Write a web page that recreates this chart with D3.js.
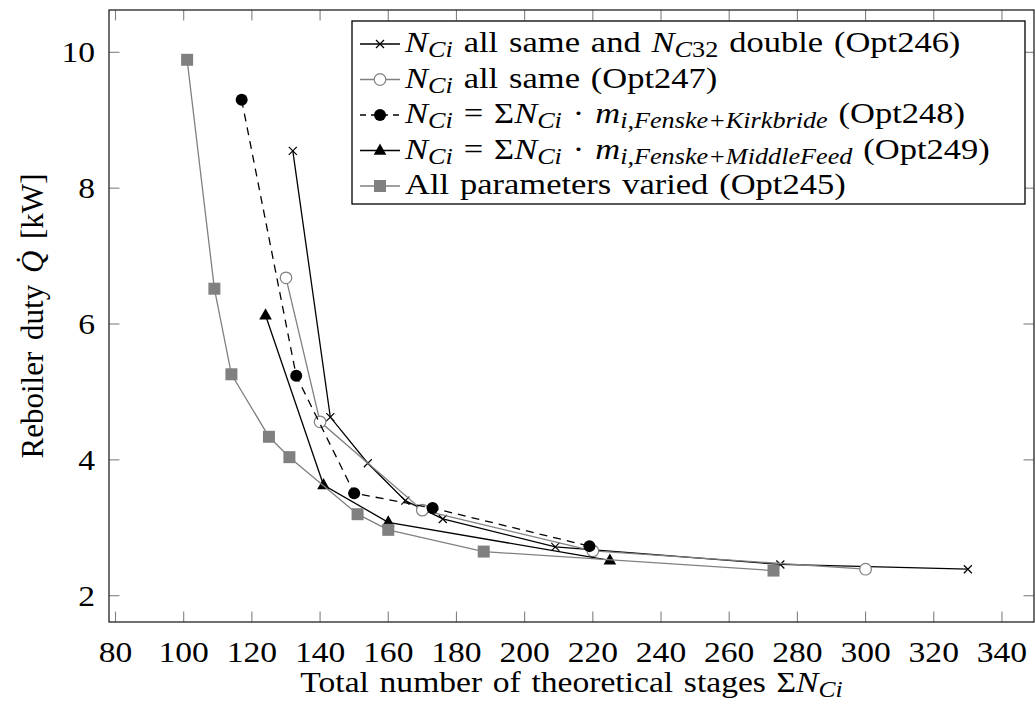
<!DOCTYPE html>
<html><head><meta charset="utf-8">
<script src="https://cdn.jsdelivr.net/npm/d3@7/dist/d3.min.js"></script>
<style>body{margin:0;background:#fff}text{font-family:"Liberation Serif","Times New Roman",serif;}</style>
</head><body><svg id="c" width="1035" height="704"></svg>
<script>
// ---- data ----
const opt246X = [132, 143, 154, 165, 176, 209, 275, 330];
const opt246Y = [8.55, 4.63, 3.95, 3.40, 3.13, 2.72, 2.46, 2.39];
const opt247X = [130, 140, 170, 220, 300];
const opt247Y = [6.68, 4.56, 3.26, 2.66, 2.39];
const opt248X = [117, 133, 150, 173, 219];
const opt248Y = [9.30, 5.24, 3.51, 3.29, 2.73];
const opt249X = [124, 141, 160, 225];
const opt249Y = [6.13, 3.63, 3.08, 2.52];
const opt245X = [101, 109, 114, 125, 131, 151, 160, 188, 273];
const opt245Y = [9.89, 6.52, 5.26, 4.34, 4.04, 3.20, 2.97, 2.65, 2.37];
const xTicks = [80,100,120,140,160,180,200,220,240,260,280,300,320,340];
const yTicks = [2,4,6,8,10];

const W=1035,H=704;
const L=109,R=1034,T=10,B=622;
const x=d3.scaleLinear().domain([78.09,349.4]).range([L,R]);
const y=d3.scaleLinear().domain([1.613,10.623]).range([B,T]);
const svg=d3.select('#c');
const gray='#808080';
const FS=30, SX=1.12;

svg.append('defs').append('clipPath').attr('id','clip').append('rect')
  .attr('x',L).attr('y',T).attr('width',R-L).attr('height',B-T);

// ticks (inside, all four sides)
const tk=10.5;
const tg=svg.append('g').attr('stroke',gray).attr('stroke-width',1.1);
xTicks.forEach(v=>{
  tg.append('line').attr('x1',x(v)).attr('x2',x(v)).attr('y1',B).attr('y2',B-tk);
  tg.append('line').attr('x1',x(v)).attr('x2',x(v)).attr('y1',T).attr('y2',T+tk);
});
yTicks.forEach(v=>{
  tg.append('line').attr('x1',L).attr('x2',L+tk).attr('y1',y(v)).attr('y2',y(v));
  tg.append('line').attr('x1',R).attr('x2',R-tk).attr('y1',y(v)).attr('y2',y(v));
});
svg.append('rect').attr('x',L).attr('y',T).attr('width',R-L).attr('height',B-T)
  .attr('fill','none').attr('stroke','#222').attr('stroke-width',1.3);

// tick labels
svg.append('g').selectAll('text').data(xTicks).join('text')
  .attr('transform',d=>`translate(${x(d)},662) scale(${SX},1)`).attr('text-anchor','middle')
  .attr('font-size',FS).text(d=>d);
svg.append('g').selectAll('text').data(yTicks).join('text')
  .attr('transform',d=>`translate(95,${y(d)+10}) scale(${SX},1)`).attr('text-anchor','end')
  .attr('font-size',FS).text(d=>d);

function rich(sel, parts, fs){
  let cur=0;
  parts.forEach(p=>{
    const [t,st]=p;
    let sh=0,size=fs,it=false;
    if(st==='i'){it=true;}
    if(st==='s'){sh=fs*0.17;size=fs*0.76;}
    if(st==='si'){sh=fs*0.17;size=fs*0.76;it=true;}
    const ts=sel.append('tspan').text(t).attr('font-size',size);
    if(it) ts.attr('font-style','italic');
    if(sh!==cur){ts.attr('dy',sh-cur);cur=sh;}
  });
}

// axis labels
const xl=svg.append('text').attr('transform',`translate(${(L+R)/2},692) scale(${SX},1)`).attr('text-anchor','middle')
  .attr('font-size',FS).attr('word-spacing',2);
rich(xl,[['Total number of theoretical stages \u03A3',''],['N','i'],['Ci','si']],FS);
const yl=svg.append('text').attr('transform',`translate(43,${(T+B)/2}) rotate(-90)`).attr('text-anchor','middle')
  .attr('font-size',FS+1).attr('word-spacing',4);
rich(yl,[['Reboiler duty ',''],['Q\u0307','i'],[' [kW]','']],FS+1);

// series
const series=[
  {xs:opt246X,ys:opt246Y,color:'#000',dash:null,mark:'cross'},
  {xs:opt247X,ys:opt247Y,color:gray,dash:null,mark:'ocircle'},
  {xs:opt248X,ys:opt248Y,color:'#000',dash:'8,6',mark:'fcircle'},
  {xs:opt249X,ys:opt249Y,color:'#000',dash:null,mark:'tri'},
  {xs:opt245X,ys:opt245Y,color:gray,dash:null,mark:'square'}
];
const line=d3.line().x(d=>x(d[0])).y(d=>y(d[1]));
function drawMark(g,m,cx,cy,color){
  if(m==='cross'){
    const s=4;
    g.append('path').attr('d',`M${cx-s},${cy-s}L${cx+s},${cy+s}M${cx-s},${cy+s}L${cx+s},${cy-s}`)
      .attr('stroke',color).attr('stroke-width',1.2).attr('fill','none');
  } else if(m==='ocircle'){
    g.append('circle').attr('cx',cx).attr('cy',cy).attr('r',5.8).attr('fill','#fff').attr('stroke',color).attr('stroke-width',1.2);
  } else if(m==='fcircle'){
    g.append('circle').attr('cx',cx).attr('cy',cy).attr('r',6).attr('fill',color);
  } else if(m==='tri'){
    const s=7;
    g.append('path').attr('d',`M${cx},${cy-s}L${cx+s*0.9},${cy+s*0.6}L${cx-s*0.9},${cy+s*0.6}Z`).attr('fill',color);
  } else if(m==='square'){
    g.append('rect').attr('x',cx-6).attr('y',cy-6).attr('width',12).attr('height',12).attr('fill',color);
  }
}
const pg=svg.append('g').attr('clip-path','url(#clip)');
series.forEach(s=>{
  const pts=s.xs.map((v,i)=>[v,s.ys[i]]);
  pg.append('path').datum(pts).attr('d',line).attr('fill','none').attr('stroke',s.color)
    .attr('stroke-width',1.3).attr('stroke-dasharray',s.dash);
  pts.forEach(p=>drawMark(pg,s.mark,x(p[0]),y(p[1]),s.color));
});

// legend
const lg=svg.append('g');
lg.append('rect').attr('x',352).attr('y',21).attr('width',1025-352).attr('height',204-21)
  .attr('fill','#fff').attr('stroke','#000').attr('stroke-width',1.3);
const labels=[
  [['N','i'],['Ci','si'],[' all same and ',''],['N','i'],['C','si'],['32','s'],[' double (Opt246)','']],
  [['N','i'],['Ci','si'],[' all same (Opt247)','']],
  [['N','i'],['Ci','si'],[' = \u03A3',''],['N','i'],['Ci','si'],[' \u00B7 ',''],['m','i'],['i,Fenske+Kirkbride','si'],[' (Opt248)','']],
  [['N','i'],['Ci','si'],[' = \u03A3',''],['N','i'],['Ci','si'],[' \u00B7 ',''],['m','i'],['i,Fenske+MiddleFeed','si'],[' (Opt249)','']],
  [['All parameters varied (Opt245)','']]
];
const LFS=30;
series.forEach((s,i)=>{
  const cy=44+i*35.5;
  lg.append('line').attr('x1',360).attr('x2',400).attr('y1',cy).attr('y2',cy)
    .attr('stroke',s.color).attr('stroke-width',1.3).attr('stroke-dasharray',s.dash?'6,5':null);
  drawMark(lg,s.mark,380,cy,s.color);
  const t=lg.append('text').attr('transform',`translate(405,${cy+8}) scale(${SX+0.03},1)`)
    .attr('font-size',LFS).attr('word-spacing',2);
  rich(t,labels[i],LFS);
});
</script></body></html>
